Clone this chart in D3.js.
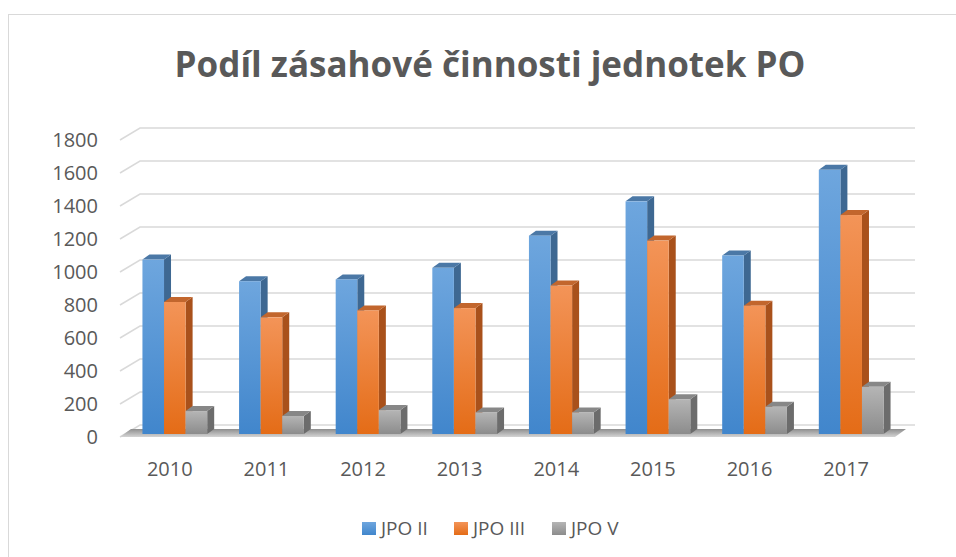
<!DOCTYPE html>
<html lang="cs">
<head>
  <meta charset="UTF-8">
  <title>Podíl zásahové činnosti jednotek PO</title>
  <script src="https://d3js.org/d3.v7.min.js"></script>
  <style>
    body { margin: 0; background: #fff; }
    text { font-family: "Open Sans", sans-serif; fill: #595959; }
  </style>
</head>
<body>
  <svg width="956" height="557"></svg>
  <script>
  // data
  var years = ["2010", "2011", "2012", "2013", "2014", "2015", "2016", "2017"];
  var seriesNames = ["JPO II", "JPO III", "JPO V"];
  var jpo2 = [1057, 926, 937, 1007, 1202, 1410, 1082, 1601];
  var jpo3 = [800, 707, 749, 763, 900, 1172, 778, 1327];
  var jpo5 = [139, 109, 145, 131, 131, 211, 165, 286];
  var yTicks = [0, 200, 400, 600, 800, 1000, 1200, 1400, 1600, 1800];

  var series = [jpo2, jpo3, jpo5];
  var colors = [
    {top: "#6ea6de", bottom: "#4186cc", side: "#3e6892", cap: "#4b78a6"},
    {top: "#f39458", bottom: "#e46c17", side: "#a9511b", cap: "#c2662d"},
    {top: "#b5b5b5", bottom: "#8c8c8c", side: "#6c6c6c", cap: "#878787"}
  ];

  var svg = d3.select("svg");

  // chart frame
  svg.append("rect")
      .attr("x", 8.5).attr("y", 14.5)
      .attr("width", 960).attr("height", 560)
      .attr("fill", "#fff")
      .attr("stroke", "#d9d9d9");

  svg.append("text")
      .attr("x", 490).attr("y", 77)
      .attr("text-anchor", "middle")
      .attr("font-size", 35)
      .attr("font-weight", 700)
      .text("Podíl zásahové činnosti jednotek PO");

  // front plane scales, wall sits behind it by (wallDx, wallDy)
  var wallDx = 20, wallDy = -12;
  var barDx = 5, barDy = -3;       // bar front face depth
  var depthDx = 7, depthDy = -5;   // bar thickness

  var x0 = d3.scaleBand().domain(years).range([121.5, 894.5])
      .paddingInner(0.33).paddingOuter(0.165);
  var x1 = d3.scaleBand().domain(d3.range(3)).range([0, x0.bandwidth()]);
  var y = d3.scaleLinear().domain([0, 1800]).range([437, 140]);

  var defs = svg.append("defs");
  colors.forEach(function(c, i) {
    var g = defs.append("linearGradient").attr("id", "grad" + i)
        .attr("x1", 0).attr("y1", 0).attr("x2", 0).attr("y2", 1);
    g.append("stop").attr("offset", "0%").attr("stop-color", c.top);
    g.append("stop").attr("offset", "100%").attr("stop-color", c.bottom);
  });
  var fg = defs.append("linearGradient").attr("id", "floorGrad")
      .attr("x1", 0).attr("y1", 0).attr("x2", 0).attr("y2", 1);
  fg.append("stop").attr("offset", "0%").attr("stop-color", "#8e8e8e");
  fg.append("stop").attr("offset", "100%").attr("stop-color", "#d4d4d4");

  var x0min = 120, x0max = 895;

  // gridlines: short diagonal on the side wall, then across the back wall
  svg.append("g").selectAll("path")
    .data(yTicks)
    .enter().append("path")
      .attr("fill", "none")
      .attr("stroke", "#d9d9d9")
      .attr("stroke-width", 1.5)
      .attr("d", function(d) {
        return "M" + x0min + "," + y(d) +
               "L" + (x0min + wallDx) + "," + (y(d) + wallDy) +
               "L" + (x0max + wallDx) + "," + (y(d) + wallDy);
      });

  // floor plate
  var floorDx = 11, floorDy = -8;
  svg.append("path")
      .attr("fill", "url(#floorGrad)")
      .attr("d", "M" + x0min + "," + y(0) +
                 "L" + (x0min + floorDx) + "," + (y(0) + floorDy) +
                 "L" + (x0max + floorDx) + "," + (y(0) + floorDy) +
                 "L" + x0max + "," + y(0) + "Z");

  // bars
  var bars = svg.append("g");
  years.forEach(function(yr, j) {
    series.forEach(function(s, i) {
      var xl = x0(yr) + x1(i) + barDx,
          w = x1.bandwidth(),
          top = y(s[j]) + barDy,
          bot = y(0) + barDy,
          c = colors[i];
      var b = bars.append("g");
      // side face
      b.append("path")
          .attr("fill", c.side)
          .attr("d", "M" + (xl + w) + "," + top +
                     "L" + (xl + w + depthDx) + "," + (top + depthDy) +
                     "L" + (xl + w + depthDx) + "," + (bot + depthDy) +
                     "L" + (xl + w) + "," + bot + "Z");
      // top face
      b.append("path")
          .attr("fill", c.cap)
          .attr("d", "M" + xl + "," + top +
                     "L" + (xl + depthDx) + "," + (top + depthDy) +
                     "L" + (xl + w + depthDx) + "," + (top + depthDy) +
                     "L" + (xl + w) + "," + top + "Z");
      // front face
      b.append("rect")
          .attr("x", xl).attr("y", top)
          .attr("width", w).attr("height", bot - top)
          .attr("fill", "url(#grad" + i + ")");
    });
  });

  // value axis labels
  svg.append("g").selectAll("text")
    .data(yTicks)
    .enter().append("text")
      .attr("x", 98)
      .attr("y", function(d) { return y(d) + 7; })
      .attr("text-anchor", "end")
      .attr("font-size", 20)
      .text(function(d) { return d; });

  // category labels
  svg.append("g").selectAll("text")
    .data(years)
    .enter().append("text")
      .attr("x", function(d) { return x0(d) + x0.bandwidth() / 2; })
      .attr("y", 476)
      .attr("text-anchor", "middle")
      .attr("font-size", 20)
      .text(function(d) { return d; });

  // legend
  var legendX = [362, 454, 552];
  var legend = svg.append("g").selectAll("g")
    .data(seriesNames)
    .enter().append("g")
      .attr("transform", function(d, i) { return "translate(" + legendX[i] + ",522)"; });
  legend.append("rect")
      .attr("width", 14).attr("height", 13)
      .attr("fill", function(d, i) { return "url(#grad" + i + ")"; });
  legend.append("text")
      .attr("x", 19).attr("y", 13)
      .attr("font-size", 19)
      .text(function(d) { return d; });
  </script>
</body>
</html>
